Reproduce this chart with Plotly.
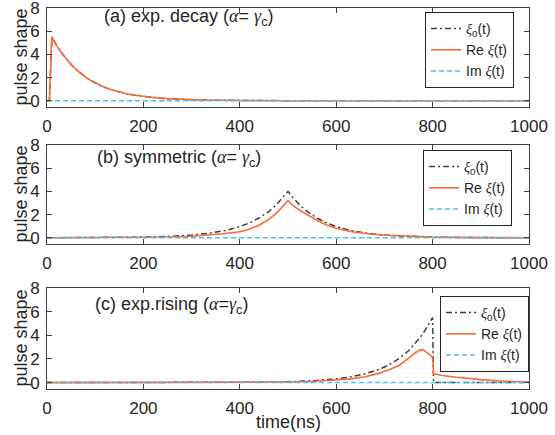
import plotly.graph_objects as go

# ---------------- data ----------------
# (a) exponential decay
t_a = [0, 5, 10, 15, 20, 30, 40, 50, 60, 70, 80, 90, 100, 115, 130, 145, 160, 180,
       200, 225, 250, 280, 310, 350, 400, 450, 500, 600, 700, 800, 900, 1000]
xi0_a = [0, 0, 5.5, 5.12, 4.77, 4.14, 3.59, 3.12, 2.71, 2.35, 2.04, 1.77, 1.54, 1.24,
         1.00, 0.80, 0.65, 0.49, 0.36, 0.26, 0.18, 0.116, 0.076, 0.042, 0.02, 0.01,
         0.005, 0.001, 0, 0, 0, 0]
re_a = [0, 0, 5.5, 5.12, 4.77, 4.14, 3.59, 3.12, 2.71, 2.35, 2.04, 1.77, 1.54, 1.24,
        1.00, 0.80, 0.65, 0.49, 0.36, 0.26, 0.18, 0.116, 0.076, 0.042, 0.02, 0.01,
        0.005, 0.001, 0, 0, 0, 0]
im_a = [0] * len(t_a)

# (b) symmetric
t_b = [0, 100, 200, 250, 300, 340, 370, 400, 420, 440, 460, 475, 490, 500,
       510, 525, 540, 560, 580, 600, 630, 660, 700, 750, 800, 900, 1000]
xi0_b = [0, 0.001, 0.055, 0.11, 0.23, 0.41, 0.62, 0.96, 1.28, 1.70, 2.26, 2.80, 3.47, 4.0,
         3.47, 2.80, 2.26, 1.70, 1.28, 0.96, 0.62, 0.41, 0.23, 0.11, 0.055, 0.013, 0.003]
re_b = [0, 0.001, 0.03, 0.06, 0.13, 0.24, 0.36, 0.52, 0.74, 1.08, 1.58, 2.08, 2.70, 3.2,
        2.80, 2.35, 1.98, 1.50, 1.10, 0.82, 0.55, 0.37, 0.21, 0.10, 0.05, 0.012, 0.003]
im_b = [0] * len(t_b)

# (c) exponential rising
t_c = [0, 200, 300, 400, 450, 500, 550, 600, 630, 660, 690, 710, 730, 750, 765,
       775, 780, 790, 800, 802, 820, 850, 900, 950, 1000]
xi0_c = [0, 0.001, 0.004, 0.018, 0.037, 0.076, 0.155, 0.316, 0.485, 0.744, 1.14, 1.52,
         2.02, 2.69, 3.34, 3.86, 4.13, 4.77, 5.5, 0, 0, 0, 0, 0, 0]
re_c = [0, 0.001, 0.003, 0.01, 0.02, 0.05, 0.1, 0.2, 0.32, 0.5, 0.8, 1.08,
        1.45, 2.05, 2.55, 2.78, 2.77, 2.5, 2.15, 0.75, 0.6, 0.45, 0.25, 0.12, 0.05]
im_c = [0] * len(t_c)

x_ticks = [0, 200, 400, 600, 800, 1000]
y_ticks = [0, 2, 4, 6, 8]

SERIF = "<span style='font-family:Liberation Serif'><i>{}</i></span>"
a_ = SERIF.format("α")
g_ = SERIF.format("γ")
x_ = SERIF.format("ξ")
titles = ["(a) exp. decay (" + a_ + "= " + g_ + "<sub>c</sub>)",
          "(b) symmetric (" + a_ + "= " + g_ + "<sub>c</sub>)",
          "(c) exp.rising (" + a_ + "=" + g_ + "<sub>c</sub>)"]
names = [x_ + "<sub>0</sub>(t)", "Re " + x_ + "(t)", "Im " + x_ + "(t)"]

# ---------------- styling ----------------
W, H = 555, 435
FONT = "Liberation Sans, Arial, sans-serif"
TXT = "#262626"
C_XI0 = "#404040"
C_RE = "#FA6A35"
C_IM = "#4DBEEE"


def px(x):
    return min(1.0, max(0.0, x / W))


def py(y):
    return min(1.0, max(0.0, 1 - y / H))


# panel pixel boxes (top, bottom)
x_left, x_right = 47, 529
panels = [(8, 107), (145, 244), (288, 389)]
legends = [(514, 12), (512, 150), (529, 296)]
title_pos = [(102, 17), (95, 158), (93, 305)]

fig = go.Figure()
series = [(t_a, xi0_a, re_a, im_a), (t_b, xi0_b, re_b, im_b), (t_c, xi0_c, re_c, im_c)]

for i, (t, x0, re, im) in enumerate(series):
    sfx = "" if i == 0 else str(i + 1)
    lg = "legend" + sfx
    fig.add_trace(go.Scatter(x=t, y=x0, mode="lines", name=names[0],
                             line=dict(color=C_XI0, width=1.5, dash="6px,3px,2px,3px"),
                             xaxis="x" + sfx, yaxis="y" + sfx, legend=lg))
    fig.add_trace(go.Scatter(x=t, y=re, mode="lines", name=names[1],
                             line=dict(color=C_RE, width=1.6),
                             xaxis="x" + sfx, yaxis="y" + sfx, legend=lg))
    fig.add_trace(go.Scatter(x=t, y=im, mode="lines", name=names[2],
                             line=dict(color=C_IM, width=1.5, dash="5px,3px"),
                             xaxis="x" + sfx, yaxis="y" + sfx, legend=lg))

layout = dict(width=W, height=H, margin=dict(l=0, r=0, t=0, b=0, autoexpand=False),
              paper_bgcolor="white", plot_bgcolor="white",
              font=dict(family=FONT, size=17, color=TXT), showlegend=True)

axis_common = dict(showline=True, linecolor="#404040", linewidth=1, mirror="allticks",
                   ticks="inside", ticklen=5, tickwidth=1, tickcolor="#404040",
                   showgrid=False, zeroline=False, automargin=False,
                   ticklabeloverflow="allow",
                   tickfont=dict(size=17, color=TXT))

annotations = []
for i, (top, bot) in enumerate(panels):
    sfx = "" if i == 0 else str(i + 1)
    xd = [px(x_left), px(x_right)]
    yd = [py(bot), py(top)]
    layout["xaxis" + sfx] = dict(axis_common, domain=xd, range=[0, 1000],
                                 tickvals=x_ticks, ticklabelstandoff=4,
                                 anchor="y" + sfx)
    layout["yaxis" + sfx] = dict(axis_common, domain=yd, range=[-0.54, 8],
                                 tickvals=y_ticks, ticklabelstandoff=3,
                                 anchor="x" + sfx)
    lx, ly = legends[i]
    layout["legend" + sfx] = dict(x=px(lx), y=py(ly), xanchor="right", yanchor="top",
                                  bgcolor="white", bordercolor="#262626", borderwidth=1,
                                  font=dict(size=14, color=TXT), itemwidth=30,
                                  tracegroupgap=0)
    tx, ty = title_pos[i]
    annotations.append(dict(text=titles[i], x=px(tx), y=py(ty), xref="paper",
                            yref="paper", xanchor="left", yanchor="middle",
                            showarrow=False, font=dict(size=18, color=TXT)))
    annotations.append(dict(text="pulse shape", x=px(20), y=py((top + bot) / 2),
                            xref="paper", yref="paper", xanchor="center",
                            yanchor="middle", textangle=-90, showarrow=False,
                            font=dict(size=18, color=TXT)))

annotations.append(dict(text="time(ns)", x=px((x_left + x_right) / 2), y=py(422),
                        xref="paper", yref="paper", xanchor="center", yanchor="middle",
                        showarrow=False, font=dict(size=18, color=TXT)))
layout["annotations"] = annotations
fig.update_layout(**layout)
fig.write_html("out.html", config={"displayModeBar": False},
               post_script="document.body.style.margin='0';"
                           "document.body.style.overflow='hidden';")
